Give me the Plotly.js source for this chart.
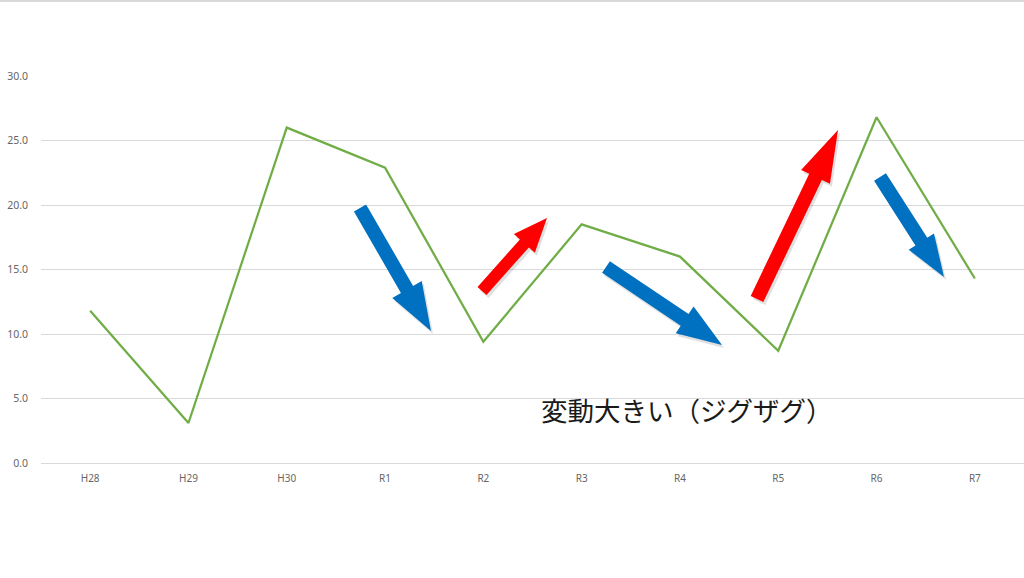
<!DOCTYPE html>
<html>
<head>
<meta charset="utf-8">
<script src="https://cdn.plot.ly/plotly-3.0.1.min.js"></script>
<style>
  html, body { margin: 0; padding: 0; background: #ffffff; }
  #zigzag-plot { width: 1024px; height: 578px; }
</style>
</head>
<body>
<div id="zigzag-plot"></div>
<script>
// year labels (Heisei / Reiwa)
var years = ['H28', 'H29', 'H30', 'R1', 'R2', 'R3', 'R4', 'R5', 'R6', 'R7'];
var values = [11.8, 3.1, 26.0, 22.9, 9.4, 18.5, 16.0, 8.7, 26.8, 14.3];
var yTicks = [0, 5, 10, 15, 20, 25, 30];
var yTickText = ['0.0', '5.0', '10.0', '15.0', '20.0', '25.0', '30.0'];
var noteText = '変動大きい（ジグザグ）';

// plot area in pixels
var M = { l: 41, r: 0, t: 76, b: 115 };
var W = 1024, H = 578;
var PW = W - M.l - M.r, PH = H - M.t - M.b;

function toPaper(px, py) {
    return [(px - M.l) / PW, 1 - (py - M.t) / PH];
}

// block arrow drawn in pixel space, converted to paper coords
function blockArrow(tail, tip, shaftW, headW, headL, color, dx, dy) {
    var vx = tip[0] - tail[0], vy = tip[1] - tail[1];
    var len = Math.sqrt(vx * vx + vy * vy);
    var ux = vx / len, uy = vy / len;
    var nx = -uy, ny = ux;
    var neck = [tip[0] - ux * headL, tip[1] - uy * headL];
    var pts = [
        [tail[0] + nx * shaftW, tail[1] + ny * shaftW],
        [neck[0] + nx * shaftW, neck[1] + ny * shaftW],
        [neck[0] + nx * headW, neck[1] + ny * headW],
        [tip[0], tip[1]],
        [neck[0] - nx * headW, neck[1] - ny * headW],
        [neck[0] - nx * shaftW, neck[1] - ny * shaftW],
        [tail[0] - nx * shaftW, tail[1] - ny * shaftW]
    ];
    var path = pts.map(function (p, i) {
        var q = toPaper(p[0] + (dx || 0), p[1] + (dy || 0));
        return (i === 0 ? 'M ' : 'L ') + q[0].toFixed(5) + ',' + q[1].toFixed(5);
    }).join(' ') + ' Z';
    return {
        type: 'path', xref: 'paper', yref: 'paper', layer: 'above',
        path: path, fillcolor: color, line: { width: 0 }
    };
}

var arrows = [
    { tail: [360, 208], tip: [431, 331], sw: 7, hw: 17, hl: 48, color: '#0070C0' },
    { tail: [482, 291], tip: [547, 218], sw: 6, hw: 14, hl: 34, color: '#FF0000' },
    { tail: [606, 267], tip: [722, 345], sw: 7, hw: 16, hl: 45, color: '#0070C0' },
    { tail: [757, 299], tip: [838, 130], sw: 7, hw: 16, hl: 52, color: '#FF0000' },
    { tail: [880, 177], tip: [944, 277], sw: 7, hw: 15, hl: 42, color: '#0070C0' }
];

var shapes = [];
arrows.forEach(function (a) {
    shapes.push(blockArrow(a.tail, a.tip, a.sw, a.hw, a.hl, 'rgba(0,0,0,0.12)', 2, 3));
    shapes.push(blockArrow(a.tail, a.tip, a.sw, a.hw, a.hl, a.color));
});

// thin border at the top of the chart area
var topY = 1 + M.t / PH;
shapes.push({
    type: 'line', xref: 'paper', yref: 'paper',
    x0: -M.l / PW, x1: 1, y0: topY - 1 / PH, y1: topY - 1 / PH,
    line: { color: '#D9D9D9', width: 2 }
});

var trace1 = {
    x: years,
    y: values,
    type: 'scatter',
    mode: 'lines',
    line: { color: '#70AD47', width: 2.25 },
    showlegend: false,
    hoverinfo: 'x+y'
};

var layout = {
    width: W,
    height: H,
    margin: M,
    paper_bgcolor: '#ffffff',
    plot_bgcolor: '#ffffff',
    font: { family: '"Noto Sans", "Open Sans", sans-serif', color: '#595959', size: 10 },
    xaxis: {
        type: 'category',
        range: [-0.5, years.length - 0.5],
        showgrid: false,
        showline: true,
        linecolor: '#D9D9D9',
        linewidth: 1,
        ticks: '',
        ticklabelstandoff: 6,
        tickfont: { size: 10, color: '#666666' },
        fixedrange: true
    },
    yaxis: {
        range: [0, 30],
        tickvals: yTicks,
        ticktext: yTickText,
        showgrid: true,
        gridcolor: '#D9D9D9',
        gridwidth: 1,
        zeroline: false,
        showline: false,
        ticks: '',
        ticklabelstandoff: 12,
        tickfont: { size: 10.5, color: '#666666' },
        fixedrange: true
    },
    shapes: shapes,
    annotations: [{
        text: noteText,
        xref: 'paper', yref: 'paper',
        x: toPaper(687, 409)[0], y: toPaper(687, 409)[1],
        xanchor: 'center', yanchor: 'middle',
        showarrow: false,
        font: { family: '"Noto Sans CJK JP", sans-serif', size: 26.5, color: '#1a1a1a' }
    }]
};

var additional_param = {
    displayModeBar: false,
    responsive: false
};

Plotly.newPlot('zigzag-plot', [trace1], layout, additional_param);
</script>
</body>
</html>
